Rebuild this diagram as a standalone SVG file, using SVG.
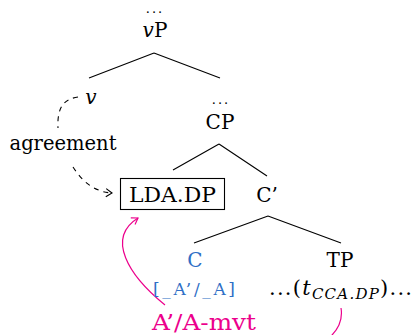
<svg xmlns="http://www.w3.org/2000/svg" width="415" height="335" viewBox="0 0 415 335">
<style>
text{font-family:"DejaVu Serif","Liberation Serif",serif;font-size:20px;fill:#000;text-anchor:middle}
.it{font-style:italic}
.blue{fill:#2f6fc6}
.mag{fill:#ec008c}
.dots{font-size:13px;letter-spacing:2px}
.edge{stroke:#000;stroke-width:1.1;fill:none}
.dash{stroke:#000;stroke-width:1.1;fill:none;stroke-dasharray:5 5}
.mv{stroke:#ec008c;stroke-width:1.2;fill:none}
</style>
<defs>
<marker id="arrK" markerWidth="10" markerHeight="10" refX="7" refY="5" orient="auto" markerUnits="userSpaceOnUse">
<path d="M1,1 L7,5 L1,9" fill="none" stroke="#000" stroke-width="1.1"/>
</marker>
<marker id="arrM" markerWidth="10" markerHeight="10" refX="7" refY="5" orient="auto" markerUnits="userSpaceOnUse">
<path d="M1,1 L7,5 L1,9" fill="none" stroke="#ec008c" stroke-width="1.2"/>
</marker>
</defs>
<g id="connectors">
<path class="edge" d="M154,53 L89,78 M154,53 L220,78"/>
<path class="edge" d="M219,144 L173,170 M219,144 L267,176"/>
<path class="edge" d="M268,216 L194,243 M268,216 L341,243"/>
<path class="dash" d="M78,97 C64,99 57,107 58,128"/>
<path class="dash" d="M73,167 C82,181 94,192 112,193" marker-end="url(#arrK)"/>
<path class="mv" d="M165,305 C128,275 106,238 138,218" marker-end="url(#arrM)"/>
<path class="mv" d="M341,308 C343,320 339,329 329,338"/>
</g>
<g id="vP"><text class="dots" x="155" y="13">...</text><text x="155" y="37"><tspan class="it">v</tspan>P</text></g>
<g id="v"><text class="it" x="91" y="104">v</text></g>
<g id="CP"><text class="dots" x="221" y="104">...</text><text x="220" y="129">CP</text></g>
<g id="agreement"><text x="63" y="150" textLength="107" lengthAdjust="spacingAndGlyphs">agreement</text></g>
<g id="LDADP"><rect x="120.5" y="178.5" width="104" height="31" fill="none" stroke="#000" stroke-width="1.1"/><text x="172.5" y="202" textLength="87" lengthAdjust="spacingAndGlyphs">LDA.DP</text></g>
<g id="Cbar"><text x="267" y="202">C’</text></g>
<g id="C"><text class="blue" x="195" y="267">C</text><text class="blue" x="194" y="295" style="font-size:17px" textLength="82" lengthAdjust="spacing">[_A’/_A]</text></g>
<g id="TP"><text x="340" y="267">TP</text><text x="269" y="295" style="text-anchor:start;font-size:21px" textLength="143" lengthAdjust="spacing">...(<tspan class="it">t</tspan><tspan class="it" style="font-size:15px" dy="4">CCA.DP</tspan><tspan dy="-4">)...</tspan></text></g>
<g id="mvt"><text class="mag" x="204" y="330" style="font-size:22px" textLength="104" lengthAdjust="spacingAndGlyphs">A’/A-mvt</text></g>
</svg>
